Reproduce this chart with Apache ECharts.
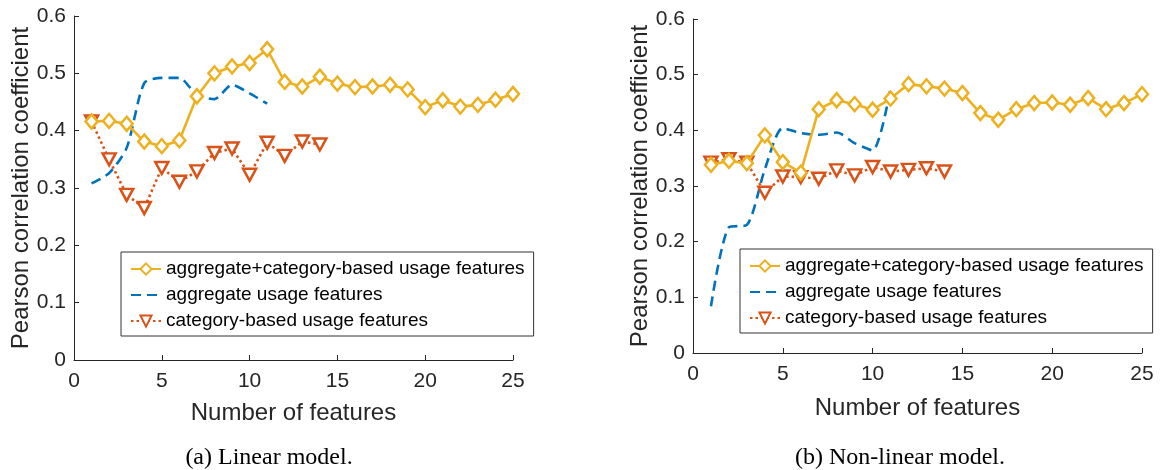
<!DOCTYPE html>
<html>
<head>
<meta charset="utf-8">
<script src="https://cdn.jsdelivr.net/npm/echarts@6/dist/echarts.min.js"></script>
<style>
  html, body { margin: 0; padding: 0; background: #fff; }
  #chart { width: 1169px; height: 470px; }
</style>
</head>
<body>
<div id="chart"></div>
<script>
// Number of selected features (x positions)
const featureCounts = [1,2,3,4,5,6,7,8,9,10,11,12,13,14,15,16,17,18,19,20,21,22,23,24,25];

// Series names
const nameCombined = 'aggregate+category-based usage features';
const nameAggregate = 'aggregate usage features';
const nameCategory = 'category-based usage features';

// (a) Linear model: Pearson correlation per feature count
const linearCombined = [0.416,0.417,0.412,0.381,0.373,0.383,0.460,0.500,0.512,0.518,0.542,0.485,0.477,0.494,0.482,0.476,0.477,0.480,0.472,0.441,0.453,0.442,0.445,0.454,0.464];
const linearAggregate = [0.308,0.326,0.370,0.483,0.492,0.492,0.462,0.455,0.480,0.465,0.447];
const linearCategory = [0.416,0.350,0.288,0.265,0.335,0.311,0.329,0.361,0.369,0.323,0.379,0.356,0.381,0.376];

// (b) Non-linear model
const nonlinearCombined = [0.338,0.345,0.341,0.391,0.343,0.324,0.438,0.454,0.447,0.437,0.457,0.483,0.479,0.475,0.467,0.431,0.419,0.438,0.449,0.450,0.446,0.458,0.438,0.449,0.465];
const nonlinearAggregate = [0.084,0.226,0.230,0.330,0.404,0.395,0.392,0.396,0.377,0.364,0.476];
const nonlinearCategory = [0.342,0.348,0.342,0.288,0.317,0.316,0.313,0.328,0.319,0.334,0.326,0.329,0.332,0.326];

// Axis ticks
const xTicks = { min: 0, max: 25, interval: 5 };
const yTicks = { min: 0, max: 0.6, interval: 0.1 };

const captions = ['(a) Linear model.', '(b) Non-linear model.'];
const xTitle = 'Number of features';
const yTitle = 'Pearson correlation coefficient';

const YELLOW = '#EDB120', BLUE = '#0072BD', RED = '#D95319', INK = '#262626';
const SANS = '"Liberation Sans", Arial, Helvetica, sans-serif';
const SERIF = '"Liberation Serif", "Times New Roman", serif';

function pairs(vals) { return vals.map((v, i) => [featureCounts[i], v]); }

function xAxisFor(idx, nameGap, labelMargin) {
  return {
    type: 'value', gridIndex: idx, min: xTicks.min, max: xTicks.max, interval: xTicks.interval,
    name: xTitle, nameLocation: 'middle', nameGap: nameGap,
    nameTextStyle: { fontFamily: SANS, fontSize: 24, color: INK },
    axisLine: { show: true, lineStyle: { color: INK, width: 1 } },
    axisTick: { show: true, inside: true, length: 5, lineStyle: { color: INK } },
    axisLabel: { fontFamily: SANS, fontSize: 21, color: INK, margin: labelMargin },
    splitLine: { show: false }
  };
}
function yAxisFor(idx) {
  return {
    type: 'value', gridIndex: idx, min: yTicks.min, max: yTicks.max, interval: yTicks.interval,
    name: yTitle, nameLocation: 'middle', nameGap: 41,
    nameTextStyle: { fontFamily: SANS, fontSize: 24, color: INK },
    axisLine: { show: true, lineStyle: { color: INK, width: 1 } },
    axisTick: { show: true, inside: true, length: 5, lineStyle: { color: INK } },
    axisLabel: { fontFamily: SANS, fontSize: 21, color: INK, margin: 8,
      formatter: v => (Math.abs(v) < 1e-9 ? '0' : v.toFixed(1)) },
    splitLine: { show: false }
  };
}

function combinedSeries(idx, vals) {
  return {
    name: nameCombined, type: 'line', xAxisIndex: idx, yAxisIndex: idx, data: pairs(vals),
    symbol: 'diamond', symbolSize: [12, 14], z: 4,
    lineStyle: { color: YELLOW, width: 2.6 },
    itemStyle: { color: '#fff', borderColor: YELLOW, borderWidth: 2.5 }
  };
}
function aggregateSeries(idx, vals) {
  return {
    name: nameAggregate, type: 'line', xAxisIndex: idx, yAxisIndex: idx, data: pairs(vals),
    showSymbol: false, symbol: 'none', smooth: 0.25, z: 2,
    lineStyle: { color: BLUE, width: 2.6, type: [10, 6] },
    itemStyle: { color: BLUE }
  };
}
function categorySeries(idx, vals) {
  return {
    name: nameCategory, type: 'line', xAxisIndex: idx, yAxisIndex: idx, data: pairs(vals),
    symbol: 'triangle', symbolRotate: 180, symbolSize: [13, 12], z: 3,
    lineStyle: { color: RED, width: 2.6, type: [2.5, 3] },
    itemStyle: { color: '#fff', borderColor: RED, borderWidth: 2.5 }
  };
}

function legendAt(left, top) {
  return {
    orient: 'vertical', left: left, top: top,
    data: [
      { name: nameCombined },
      // dashed line only, no marker
      { name: nameAggregate, itemStyle: { color: 'rgba(0,0,0,0)', borderColor: 'rgba(0,0,0,0)', borderWidth: 0 } },
      { name: nameCategory }
    ],
    backgroundColor: '#fff', borderColor: '#333', borderWidth: 1,
    padding: [6, 9, 4, 9], itemGap: 4, itemWidth: 30, itemHeight: 14,
    symbolRotate: 'inherit',
    textStyle: { fontFamily: SANS, fontSize: 19, color: '#000', lineHeight: 22 },
    selectedMode: false
  };
}

const chart = echarts.init(document.getElementById('chart'), null, { renderer: 'canvas' });
chart.setOption({
  animation: false,
  backgroundColor: '#fff',
  grid: [
    { left: 74, top: 16, width: 439, height: 344 },
    { left: 693, top: 19, width: 449, height: 334 }
  ],
  xAxis: [xAxisFor(0, 41, 11), xAxisFor(1, 43, 11)],
  yAxis: [yAxisFor(0), yAxisFor(1)],
  legend: [legendAt(121, 252), legendAt(740, 249)],
  series: [
    combinedSeries(0, linearCombined),
    aggregateSeries(0, linearAggregate),
    categorySeries(0, linearCategory),
    combinedSeries(1, nonlinearCombined),
    aggregateSeries(1, nonlinearAggregate),
    categorySeries(1, nonlinearCategory)
  ],
  graphic: [
    { type: 'text', x: 269, y: 458,
      style: { text: captions[0], font: '24px ' + SERIF, fill: '#000', align: 'center', verticalAlign: 'middle' } },
    { type: 'text', x: 900, y: 458,
      style: { text: captions[1], font: '24px ' + SERIF, fill: '#000', align: 'center', verticalAlign: 'middle' } }
  ]
});
</script>
</body>
</html>
